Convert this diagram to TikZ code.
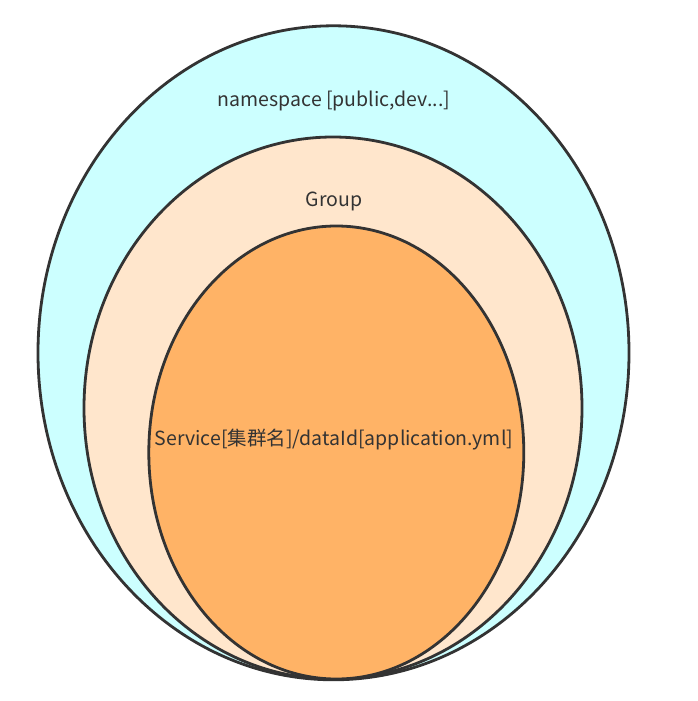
\documentclass[tikz,border=0pt]{standalone}
\usepackage{fontspec}
\setmainfont{Noto Sans CJK SC}
\usetikzlibrary{shapes.geometric, positioning}
\definecolor{edge}{HTML}{333333}
\definecolor{nsfill}{HTML}{CCFFFF}
\definecolor{groupfill}{HTML}{FFE6CC}
\definecolor{servicefill}{HTML}{FFB366}

\begin{document}
\begin{tikzpicture}[x=1pt, y=-1pt]
		\tikzstyle{ring} = [ellipse, draw=edge, line width=2.8pt, inner sep=0pt]
		\tikzstyle{ringtext} = [text=edge, font=\fontsize{19.5}{23}\selectfont, inner sep=0pt]

		\useasboundingbox (0,0) rectangle (698,701);

		% nested scopes, outermost first
		\node[ring, fill=nsfill, minimum width=591pt, minimum height=654pt] (namespace) at (333.5,352.8) {};
		\node[ring, fill=groupfill, minimum width=498pt, minimum height=542pt] (group) at (333,408) {};
		\node[ring, fill=servicefill, minimum width=375pt, minimum height=453pt] (service) at (336.3,452.5) {};

		\node[ringtext] (nslabel) at (334,101) {namespace [public,dev...]};
		\node[ringtext] (grouplabel) at (334,201) {Group};
		\node[ringtext] (servicelabel) at (334,440) {Service[集群名]/dataId[application.yml]};
	\end{tikzpicture}
\end{document}
